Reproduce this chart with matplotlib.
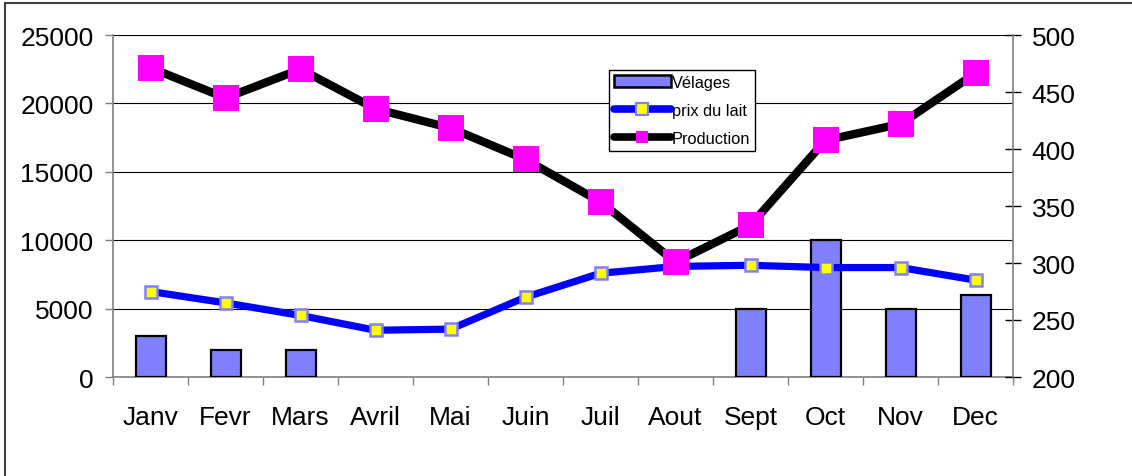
import matplotlib
matplotlib.use("Agg")
import matplotlib.pyplot as plt
from matplotlib.lines import Line2D
from matplotlib.patches import Patch
import numpy as np

plt.rcParams['font.family'] = ['Liberation Sans', 'DejaVu Sans']

months = ["Janv", "Fevr", "Mars", "Avril", "Mai", "Juin",
          "Juil", "Aout", "Sept", "Oct", "Nov", "Dec"]
velages = [3000, 2000, 2000, 0, 0, 0, 0, 0, 5000, 10000, 5000, 6000]
prix_lait = [275, 265, 254, 241, 242, 270, 291, 297, 298, 296, 296, 285]
production = [22600, 20400, 22500, 19600, 18200, 15900,
              12800, 8400, 11100, 17300, 18500, 22200]

BAR_BLUE = "#8080FF"
LINE_BLUE = "#0000FF"
MAGENTA = "#FF00FF"
YELLOW = "#FFFF00"
GREY = "#808080"

fig = plt.figure(figsize=(11.32, 4.77), dpi=100)
ax = fig.add_axes([113 / 1132, 1 - 378 / 477, 900 / 1132, 342 / 477])
ax_r = ax.twinx()
ax_p = ax.twinx()

x = np.arange(len(months))
vel = np.array(velages, dtype=float)
has_bar = vel > 0

# bars: calvings, left scale (months without calvings get no bar)
ax.bar(x[has_bar], vel[has_bar], width=0.4, color=BAR_BLUE,
       edgecolor="black", linewidth=1.6, zorder=3)
ax.set_ylim(0, 25000)
ax.set_xlim(-0.5, len(months) - 0.5)
ax.set_yticks(np.arange(0, 25001, 5000))
ax.yaxis.grid(True, color="black", linewidth=0.8, zorder=0)
ax.set_axisbelow(True)
ax.set_xticks(x)
ax.set_xticklabels(months, fontsize=19)
ax.set_xticks(np.arange(-0.5, len(months), 1.0), minor=True)
ax.tick_params(axis="x", which="major", length=0, pad=20)
ax.tick_params(axis="x", which="minor", length=6, width=1, color=GREY,
               direction="out")
ax.tick_params(axis="y", labelsize=19, length=6, width=1, color=GREY,
               direction="out", pad=8)
for s in ["top", "right"]:
    ax.spines[s].set_visible(False)
for s in ["left", "bottom"]:
    ax.spines[s].set_color(GREY)
    ax.spines[s].set_linewidth(1.2)

# milk price, right scale
ax_r.plot(x, prix_lait, color=LINE_BLUE, linewidth=5.2, marker="s",
          markersize=9, markerfacecolor=YELLOW, markeredgecolor=BAR_BLUE,
          markeredgewidth=1.8, solid_joinstyle="round", zorder=3)
ax_r.set_ylim(200, 500)
ax_r.set_yticks(np.arange(200, 501, 50))
ax_r.tick_params(axis="y", labelsize=19, length=11, width=1, color="black",
                 direction="inout", pad=8)
for s in ["top", "left", "bottom"]:
    ax_r.spines[s].set_visible(False)
ax_r.spines["right"].set_color(GREY)
ax_r.spines["right"].set_linewidth(1.2)

# production, left scale, drawn on top
ax_p.plot(x, production, color="black", linewidth=6, marker="s",
          markersize=19, markerfacecolor=MAGENTA, markeredgecolor=MAGENTA,
          markeredgewidth=0, solid_joinstyle="miter", zorder=3)
ax_p.set_ylim(ax.get_ylim())
ax_p.axis("off")

ax.set_zorder(1)
ax_r.set_zorder(2)
ax_p.set_zorder(3)
ax_r.patch.set_visible(False)
ax_p.patch.set_visible(False)

handles = [
    Patch(facecolor=BAR_BLUE, edgecolor="black", linewidth=1.8),
    Line2D([], [], color=LINE_BLUE, linewidth=5.5, marker="s", markersize=8,
           markerfacecolor=YELLOW, markeredgecolor=BAR_BLUE,
           markeredgewidth=1.6, solid_capstyle="round"),
    Line2D([], [], color="black", linewidth=5.5, marker="s", markersize=9,
           markerfacecolor=MAGENTA, markeredgecolor=MAGENTA,
           markeredgewidth=0, solid_capstyle="round"),
]
leg = ax_p.legend(handles, ["Vélages", "prix du lait", "Production"],
                  loc="upper left",
                  bbox_to_anchor=(609 / 1132, 1 - 71 / 477),
                  bbox_transform=fig.transFigure,
                  fontsize=11.8, frameon=True, fancybox=False,
                  edgecolor="black", framealpha=1, borderpad=0.28,
                  handlelength=3.5, handleheight=0.8, handletextpad=0.05,
                  labelspacing=0.82, borderaxespad=0)
leg.get_frame().set_linewidth(1.0)

# outer frame of the chart area
fig.add_artist(Line2D([5 / 1132, 5 / 1132], [0, 1 - 4 / 477],
                      transform=fig.transFigure, color="#404040", linewidth=1.5))
fig.add_artist(Line2D([5 / 1132, 1], [1 - 4 / 477, 1 - 4 / 477],
                      transform=fig.transFigure, color="#404040", linewidth=1.5))

fig.savefig("out.png", dpi=100, facecolor="white")
